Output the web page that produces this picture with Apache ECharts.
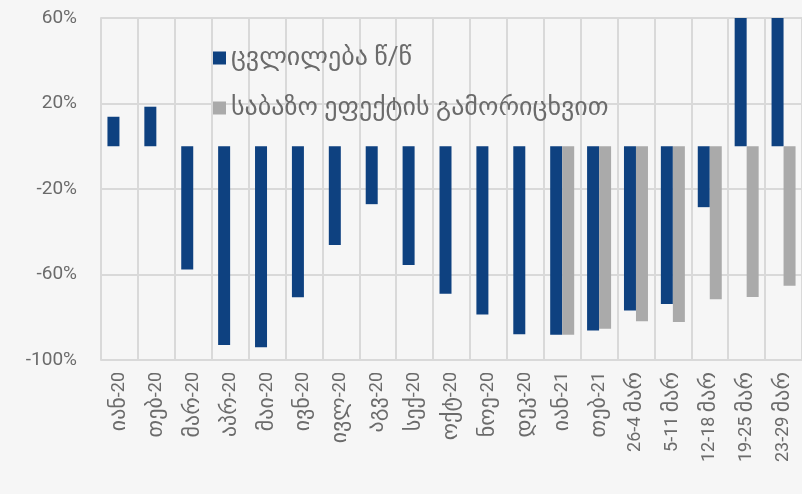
<!DOCTYPE html>
<html>
<head>
<meta charset="utf-8">
<script src="https://cdn.jsdelivr.net/npm/echarts@6/dist/echarts.min.js"></script>
<style>
  html, body { margin: 0; padding: 0; background: #f6f6f6; }
  #main { width: 802px; height: 494px; }
</style>
</head>
<body>
<div id="main"></div>
<script>
// კატეგორიები
const categories = ['იან-20', 'თებ-20', 'მარ-20', 'აპრ-20', 'მაი-20', 'ივნ-20', 'ივლ-20', 'აგვ-20', 'სექ-20',
  'ოქტ-20', 'ნოე-20', 'დეკ-20', 'იან-21', 'თებ-21', '26-4 მარ', '5-11 მარ', '12-18 მარ', '19-25 მარ', '23-29 მარ'];

// ცვლილება წ/წ (%), last two go off the top of the axis
const changeYoY = [13.8, 18.5, -57.7, -93, -94, -70.7, -46.2, -27.1, -55.5, -69, -78.7, -88, -88.2, -86.2,
  -76.9, -73.8, -28.5, 95, 90];

// საბაზო ეფექტის გამორიცხვით (%)
const exBase = [null, null, null, null, null, null, null, null, null, null, null, null, -88.2, -85.4,
  -81.9, -82.2, -71.6, -70.5, -65.3];

const yTicks = { min: -100, max: 60, interval: 40 };

const font = "Roboto, 'DejaVu Sans', sans-serif";

// georgian letters come out small in DejaVu, so give them their own size
function labelFmt(v) {
  return v.replace(/[\u10A0-\u10FF]+/g, m => '{g|' + m + '}').replace(/(^|})([^{]+)(?={|$)/g, (a, b, c) => b + '{d|' + c + '}');
}

const chart = echarts.init(document.getElementById('main'));

const option = {
  backgroundColor: '#f6f6f6',
  animation: false,
  textStyle: { fontFamily: font },
  grid: { left: 101, right: 0, top: 18, bottom: 134 },
  legend: {
    orient: 'vertical',
    left: 208,
    top: 40,
    itemWidth: 13,
    itemHeight: 13,
    itemGap: 24,
    icon: 'rect',
    textStyle: { color: '#6b6b6b', fontSize: 26, fontFamily: font },
    data: ['ცვლილება წ/წ', 'საბაზო ეფექტის გამორიცხვით']
  },
  xAxis: {
    type: 'category',
    data: categories,
    axisLine: { show: false },
    axisTick: { show: false },
    splitLine: { show: true, lineStyle: { color: '#d9d9d9', width: 2 } },
    axisLabel: {
      rotate: 90, color: '#6b6b6b', fontSize: 18, margin: 12, interval: 0,
      formatter: labelFmt,
      rich: {
        g: { fontSize: 22, color: '#6b6b6b', fontFamily: font },
        d: { fontSize: 18, color: '#6b6b6b', fontFamily: font }
      }
    }
  },
  yAxis: {
    type: 'value',
    min: yTicks.min,
    max: yTicks.max,
    interval: yTicks.interval,
    axisLine: { show: true, lineStyle: { color: '#d9d9d9', width: 2 } },
    axisTick: { show: false },
    splitLine: { lineStyle: { color: '#d9d9d9', width: 2 } },
    axisLabel: { formatter: '{value}%', color: '#6b6b6b', fontSize: 19, margin: 24 }
  },
  series: [
    {
      name: 'ცვლილება წ/წ',
      type: 'bar',
      data: changeYoY,
      barWidth: 12,
      barGap: '0%',
      itemStyle: { color: '#0e4180' }
    },
    {
      name: 'საბაზო ეფექტის გამორიცხვით',
      type: 'bar',
      data: exBase,
      barWidth: 12,
      itemStyle: { color: '#aaaaaa' }
    }
  ]
};

chart.setOption(option);
</script>
</body>
</html>
